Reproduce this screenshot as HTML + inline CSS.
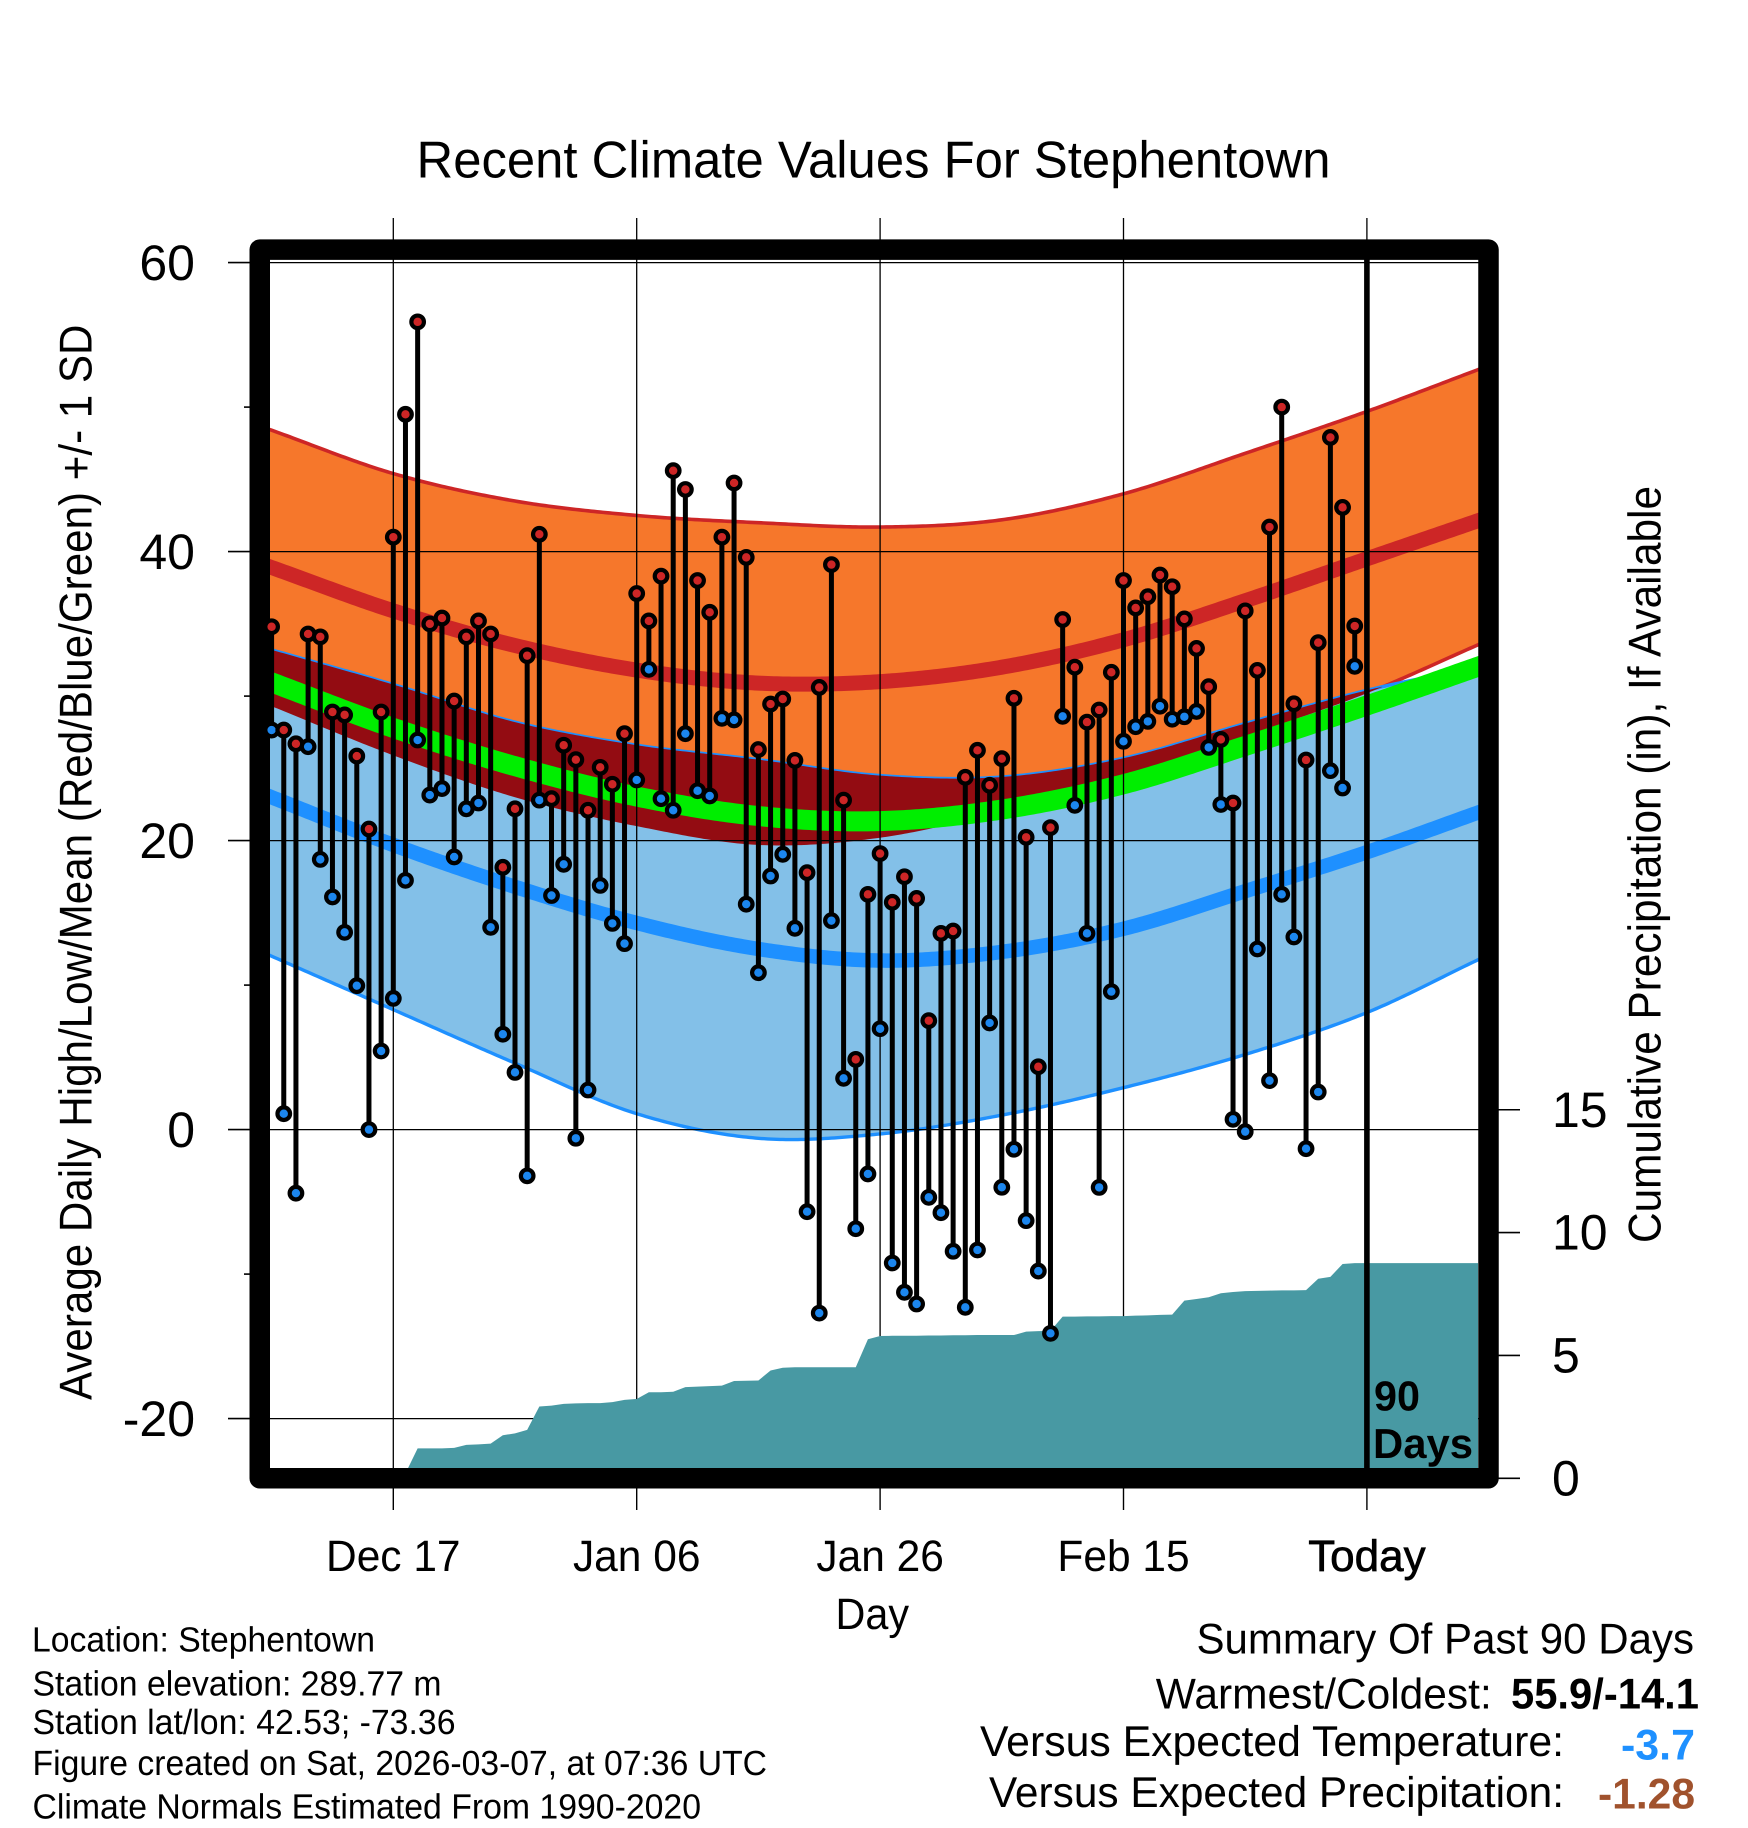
<!DOCTYPE html>
<html lang="en">
<head>
<meta charset="utf-8">
<title>Recent Climate Values For Stephentown</title>
<style>
html,body{margin:0;padding:0;background:#fff;}
svg{display:block;}
text{font-family:"Liberation Sans",sans-serif;fill:#000;text-rendering:geometricPrecision;}
.bold{font-weight:bold;}
</style>
</head>
<body>
<svg id="chart" xmlns="http://www.w3.org/2000/svg" width="1748" height="1828" viewBox="0 0 1748 1828">
  <rect x="0" y="0" width="1748" height="1828" fill="#ffffff"/>
  <g id="bands"></g>
  <g id="grid"></g>
  <g id="precip"></g>
  <rect x="259.75" y="249.65" width="1228.75" height="1228.65" fill="none" stroke="#000" stroke-width="20.5" stroke-linejoin="round"/>
  <g id="ticks"></g>
  <g id="temps"></g>

  <text x="416.5" y="177.7" font-size="52" textLength="914" lengthAdjust="spacingAndGlyphs">Recent Climate Values For Stephentown</text>
  <text transform="translate(91.7 1400) rotate(-90)" font-size="46" textLength="1075.5" lengthAdjust="spacingAndGlyphs">Average Daily High/Low/Mean (Red/Blue/Green) +/- 1 SD</text>
  <text transform="translate(1660.7 1243) rotate(-90)" font-size="46" textLength="757" lengthAdjust="spacingAndGlyphs">Cumulative Precipitation (in), If Available</text>
  <text x="835.5" y="1629" font-size="44" textLength="73.5" lengthAdjust="spacingAndGlyphs">Day</text>

  <text class="bold" x="1374" y="1410.7" font-size="42" textLength="46" lengthAdjust="spacingAndGlyphs">90</text>
  <text class="bold" x="1373" y="1458" font-size="42" textLength="100" lengthAdjust="spacingAndGlyphs">Days</text>

  <text x="32" y="1651.7" font-size="35" textLength="343" lengthAdjust="spacingAndGlyphs">Location: Stephentown</text>
  <text x="32.5" y="1695.7" font-size="35" textLength="409" lengthAdjust="spacingAndGlyphs">Station elevation: 289.77 m</text>
  <text x="32.5" y="1734" font-size="35" textLength="423" lengthAdjust="spacingAndGlyphs">Station lat/lon: 42.53; -73.36</text>
  <text x="32.5" y="1775" font-size="35" textLength="734.5" lengthAdjust="spacingAndGlyphs">Figure created on Sat, 2026-03-07, at 07:36 UTC</text>
  <text x="32.5" y="1818.7" font-size="35" textLength="668.5" lengthAdjust="spacingAndGlyphs">Climate Normals Estimated From 1990-2020</text>

  <text x="1196.5" y="1653.7" font-size="43" textLength="497.5" lengthAdjust="spacingAndGlyphs">Summary Of Past 90 Days</text>
  <text x="1155.8" y="1708.3" font-size="43" textLength="336" lengthAdjust="spacingAndGlyphs">Warmest/Coldest:</text>
  <text class="bold" x="1511" y="1708.3" font-size="43" textLength="188" lengthAdjust="spacingAndGlyphs">55.9/-14.1</text>
  <text x="980" y="1756" font-size="43" textLength="584" lengthAdjust="spacingAndGlyphs">Versus Expected Temperature:</text>
  <text class="bold" x="1621" y="1759.5" font-size="43" textLength="74" lengthAdjust="spacingAndGlyphs" style="fill:#1e90ff">-3.7</text>
  <text x="989" y="1807" font-size="43" textLength="575" lengthAdjust="spacingAndGlyphs">Versus Expected Precipitation:</text>
  <text class="bold" x="1598" y="1808.5" font-size="43" textLength="97" lengthAdjust="spacingAndGlyphs" style="fill:#a0522d">-1.28</text>
</svg>

<script>
// ---- data ----
const dailyHighs = [34.8,27.65,26.7,34.3,34.1,28.9,28.7,25.85,20.8,28.9,41.0,49.5,55.9,35.0,35.4,29.66,34.1,35.2,34.3,18.15,22.2,32.8,41.2,22.9,26.6,25.6,22.1,25.07,23.9,27.4,37.1,35.2,38.3,45.6,44.3,38.0,35.8,41.0,44.75,39.6,26.3,29.45,29.8,25.55,17.78,30.6,39.1,22.8,4.86,16.28,19.1,15.73,17.5,16.0,7.54,13.58,13.74,24.38,26.25,23.83,25.67,29.85,20.23,4.35,20.9,35.3,32.0,28.2,29.04,31.65,38.0,36.1,36.88,38.38,37.57,35.34,33.3,30.65,27.0,22.6,35.9,31.78,41.7,50.0,29.47,25.58,33.7,47.9,43.06,34.85];
const dailyLows = [27.65,1.1,-4.4,26.5,18.7,16.1,13.65,9.96,0,5.44,9.08,17.25,26.96,23.15,23.6,18.87,22.2,22.6,14.0,6.6,3.96,-3.2,22.8,16.2,18.36,-0.6,2.74,16.9,14.27,12.87,24.2,31.85,22.9,22.1,27.4,23.45,23.09,28.46,28.35,15.6,10.86,17.55,19.05,13.93,-5.68,-12.7,14.46,3.55,-6.86,-3.07,6.98,-9.23,-11.26,-12.07,-4.69,-5.75,-8.42,-12.3,-8.33,7.38,-3.99,-1.36,-6.3,-9.79,-14.1,28.6,22.44,13.58,-4.0,9.55,26.87,27.88,28.25,29.3,28.4,28.57,28.94,26.45,22.5,0.71,-0.14,12.5,3.39,16.28,13.33,-1.32,2.6,24.84,23.64,32.06];
const cumulativePrecip = [0,0,0,0,0,0,0,0,0,0,0,0.2,1.22,1.22,1.22,1.24,1.36,1.38,1.41,1.75,1.83,1.97,2.92,2.96,3.03,3.05,3.06,3.06,3.1,3.19,3.23,3.5,3.5,3.52,3.71,3.73,3.75,3.77,3.96,3.97,3.98,4.39,4.5,4.52,4.52,4.52,4.52,4.52,4.52,5.66,5.79,5.8,5.8,5.8,5.81,5.81,5.82,5.82,5.83,5.83,5.83,5.83,5.97,5.99,6.0,6.58,6.58,6.59,6.59,6.6,6.6,6.62,6.63,6.65,6.66,7.23,7.3,7.37,7.53,7.58,7.62,7.63,7.64,7.65,7.65,7.66,8.12,8.2,8.72,8.76];

const normalDays = [0,10,20,30,40,50,60,70,80,90,99];
const highPlusSd  = [48.4,45.4,43.5,42.5,42.0,41.7,42.2,44.0,46.8,49.7,52.55];
const highMean    = [38.9,35.9,33.5,31.8,30.9,31.0,32.0,33.9,36.6,39.5,42.1];
const highMinusSd = [29.3,25.9,23.0,21.0,19.7,20.2,22.0,24.2,27.2,30.2,33.5];
const lowPlusSd   = [33.2,30.8,28.2,26.6,25.6,24.5,24.4,25.7,28.1,30.4,32.0];
const lowMean     = [23.0,19.7,16.8,14.3,12.5,11.7,12.3,13.9,16.5,19.2,21.9];
const lowMinusSd  = [12.0,8.3,4.6,1.1,-0.6,-0.3,1.0,2.9,5.2,8.1,11.7];
const midMean     = [30.95,27.8,25.15,23.05,21.7,21.35,22.15,23.9,26.55,29.35,32.0];

const yMajorTicks = [60,40,20,0,-20];
const yMinorTicks = [50,30,10,-10];
const precipTicks = [0,5,10,15];
const xTickDays = [10,30,50,70,90];
const xTickLabels = ['Dec 17','Jan 06','Jan 26','Feb 15','Today'];

// ---- axis functions ----
const xOf = d => 271.6 + 12.17 * d;
const yOf = v => 1129.6 - 14.45 * v;
const yPrecip = p => 1478.3 - 24.57 * p;

const NS = 'http://www.w3.org/2000/svg';
function mk(parent, tag, attrs) {
  const e = document.createElementNS(NS, tag);
  for (const k in attrs) e.setAttribute(k, attrs[k]);
  parent.appendChild(e);
  return e;
}

// smooth (cubic Hermite) evaluation through the normal samples
function curveAt(vals, d) {
  const D = normalDays, n = D.length;
  if (d <= D[0]) return vals[0] + (vals[1]-vals[0])/(D[1]-D[0])*(d-D[0]);
  if (d >= D[n-1]) return vals[n-1] + (vals[n-1]-vals[n-2])/(D[n-1]-D[n-2])*(d-D[n-1]);
  let i = 0;
  while (d > D[i+1]) i++;
  const tan = j => j === 0 ? (vals[1]-vals[0])/(D[1]-D[0])
    : j === n-1 ? (vals[n-1]-vals[n-2])/(D[n-1]-D[n-2])
    : (vals[j+1]-vals[j-1])/(D[j+1]-D[j-1]);
  const h = D[i+1]-D[i], t = (d-D[i])/h, t2 = t*t, t3 = t2*t;
  return (2*t3-3*t2+1)*vals[i] + (t3-2*t2+t)*h*tan(i) + (-2*t3+3*t2)*vals[i+1] + (t3-t2)*h*tan(i+1);
}
const dayStart = -1, dayEnd = 100, dayStep = 0.25;
function linePts(vals) {
  const pts = [];
  for (let d = dayStart; d <= dayEnd; d += dayStep) pts.push(xOf(d).toFixed(2)+','+yOf(curveAt(vals,d)).toFixed(2));
  return pts;
}
function bandPts(top, bottom) {
  return linePts(top).concat(linePts(bottom).reverse()).join(' ');
}

// ---- bands ----
const bands = document.getElementById('bands');

const orangeBand = mk(bands, 'polygon', {points: bandPts(highPlusSd, highMinusSd), fill: '#f6772b'});



const highUpper = mk(bands, 'polyline', {points: linePts(highPlusSd).join(' '), fill: 'none', stroke: '#cd2626', 'stroke-width': 3.6});



const highLower = mk(bands, 'polyline', {points: linePts(highMinusSd).join(' '), fill: 'none', stroke: '#cd2626', 'stroke-width': 3.6});



const blueBand = mk(bands, 'polygon', {points: bandPts(lowPlusSd, lowMinusSd), fill: '#83c0e8'});



const lowUpper = mk(bands, 'polyline', {points: linePts(lowPlusSd).join(' '), fill: 'none', stroke: '#1e90ff', 'stroke-width': 3.4});



const lowLower = mk(bands, 'polyline', {points: linePts(lowMinusSd).join(' '), fill: 'none', stroke: '#1e90ff', 'stroke-width': 3.4});



// overlap of the two SD bands: only where low+SD sits above high-SD
const overlapTop = [], overlapBottom = [];
for (let d = dayStart; d <= dayEnd; d += dayStep) {
  const a = curveAt(lowPlusSd, d), b = curveAt(highMinusSd, d);
  if (a > b) {
    overlapTop.push(xOf(d).toFixed(2)+','+yOf(a).toFixed(2));
    overlapBottom.unshift(xOf(d).toFixed(2)+','+yOf(b).toFixed(2));
  }
}
const overlapBand = mk(bands, 'polygon', {points: overlapTop.concat(overlapBottom).join(' '), fill: '#930c12'});



const highMeanLine = mk(bands, 'polyline', {points: linePts(highMean).join(' '), fill: 'none', stroke: '#cd2626', 'stroke-width': 15});



const lowMeanLine = mk(bands, 'polyline', {points: linePts(lowMean).join(' '), fill: 'none', stroke: '#1e90ff', 'stroke-width': 14.5});



const midMeanLine = mk(bands, 'polyline', {points: linePts(midMean).join(' '), fill: 'none', stroke: '#00ee00', 'stroke-width': 20});



// ---- grid ----
const grid = document.getElementById('grid');
yMajorTicks.forEach(v => {
  const g = mk(grid, 'line', {x1: 250, x2: 1480, y1: yOf(v), y2: yOf(v), stroke: '#000', 'stroke-width': 1.3});
  
  
});
xTickDays.forEach(d => {
  const g = mk(grid, 'line', {x1: xOf(d), x2: xOf(d), y1: 218, y2: 1480, stroke: '#000', 'stroke-width': 1.3});
  
  
});

// ---- precipitation area ----
const precipGroup = document.getElementById('precip');
const precipPts = cumulativePrecip.map((p, i) => xOf(i).toFixed(2)+','+yPrecip(p).toFixed(2));
precipPts.unshift(xOf(0).toFixed(2)+','+yPrecip(0).toFixed(2));
precipPts.push('1478,'+yPrecip(cumulativePrecip[cumulativePrecip.length-1]).toFixed(2));
precipPts.push('1478,'+yPrecip(0).toFixed(2));
const precipArea = mk(precipGroup, 'polygon', {points: precipPts.join(' '), fill: '#4899a3'});



// ---- ticks and tick labels ----
const ticks = document.getElementById('ticks');
yMajorTicks.forEach(v => {
  const t = mk(ticks, 'line', {x1: 228, x2: 250, y1: yOf(v), y2: yOf(v), stroke: '#000', 'stroke-width': 1.6});
  
  
  const l = mk(ticks, 'text', {x: 195, y: yOf(v)+17.3, 'font-size': 50, 'text-anchor': 'end'});
  l.textContent = String(v);
  
  
});
yMinorTicks.forEach(v => {
  const t = mk(ticks, 'line', {x1: 244, x2: 250, y1: yOf(v), y2: yOf(v), stroke: '#000', 'stroke-width': 1.6});
  
  
});
precipTicks.forEach(p => {
  const t = mk(ticks, 'line', {x1: 1498, x2: 1520, y1: yPrecip(p), y2: yPrecip(p), stroke: '#000', 'stroke-width': 1.6});
  
  
  const l = mk(ticks, 'text', {x: 1552, y: yPrecip(p)+17, 'font-size': 50});
  l.textContent = String(p);
  
  
});
xTickDays.forEach((d, i) => {
  const t = mk(ticks, 'line', {x1: xOf(d), x2: xOf(d), y1: 1488, y2: 1510, stroke: '#000', 'stroke-width': 1.4});
  
  
  const l = mk(ticks, 'text', {x: xOf(d), y: 1571, 'font-size': 44, 'text-anchor': 'middle'});
  l.textContent = xTickLabels[i];
  
  
  const squeeze = xTickLabels[i] === 'Today' ? 1 : 0.965;
  l.setAttribute('textLength', (l.getComputedTextLength() * squeeze).toFixed(1));
  l.setAttribute('lengthAdjust', 'spacingAndGlyphs');
  if (xTickLabels[i] === 'Today') {
    l.setAttribute('stroke', '#000');
    l.setAttribute('stroke-width', '0.7');
  }
});
const todayLine = mk(ticks, 'line', {x1: xOf(90), x2: xOf(90), y1: 250, y2: 1478, stroke: '#000', 'stroke-width': 5.6});



// ---- daily stems and points ----
const temps = document.getElementById('temps');
dailyHighs.forEach((hi, i) => {
  const lo = dailyLows[i];
  const x = xOf(i);
  const stem = mk(temps, 'line', {x1: x, x2: x, y1: yOf(hi), y2: yOf(lo), stroke: '#000', 'stroke-width': 5});
  
  
  const loDot = mk(temps, 'circle', {cx: x, cy: yOf(lo), r: 6.3, fill: '#1c86ee', stroke: '#000', 'stroke-width': 4.2});
  
  
  const hiDot = mk(temps, 'circle', {cx: x, cy: yOf(hi), r: 6.3, fill: '#cd2626', stroke: '#000', 'stroke-width': 4.2});
  
  
});
</script>
</body>
</html>
